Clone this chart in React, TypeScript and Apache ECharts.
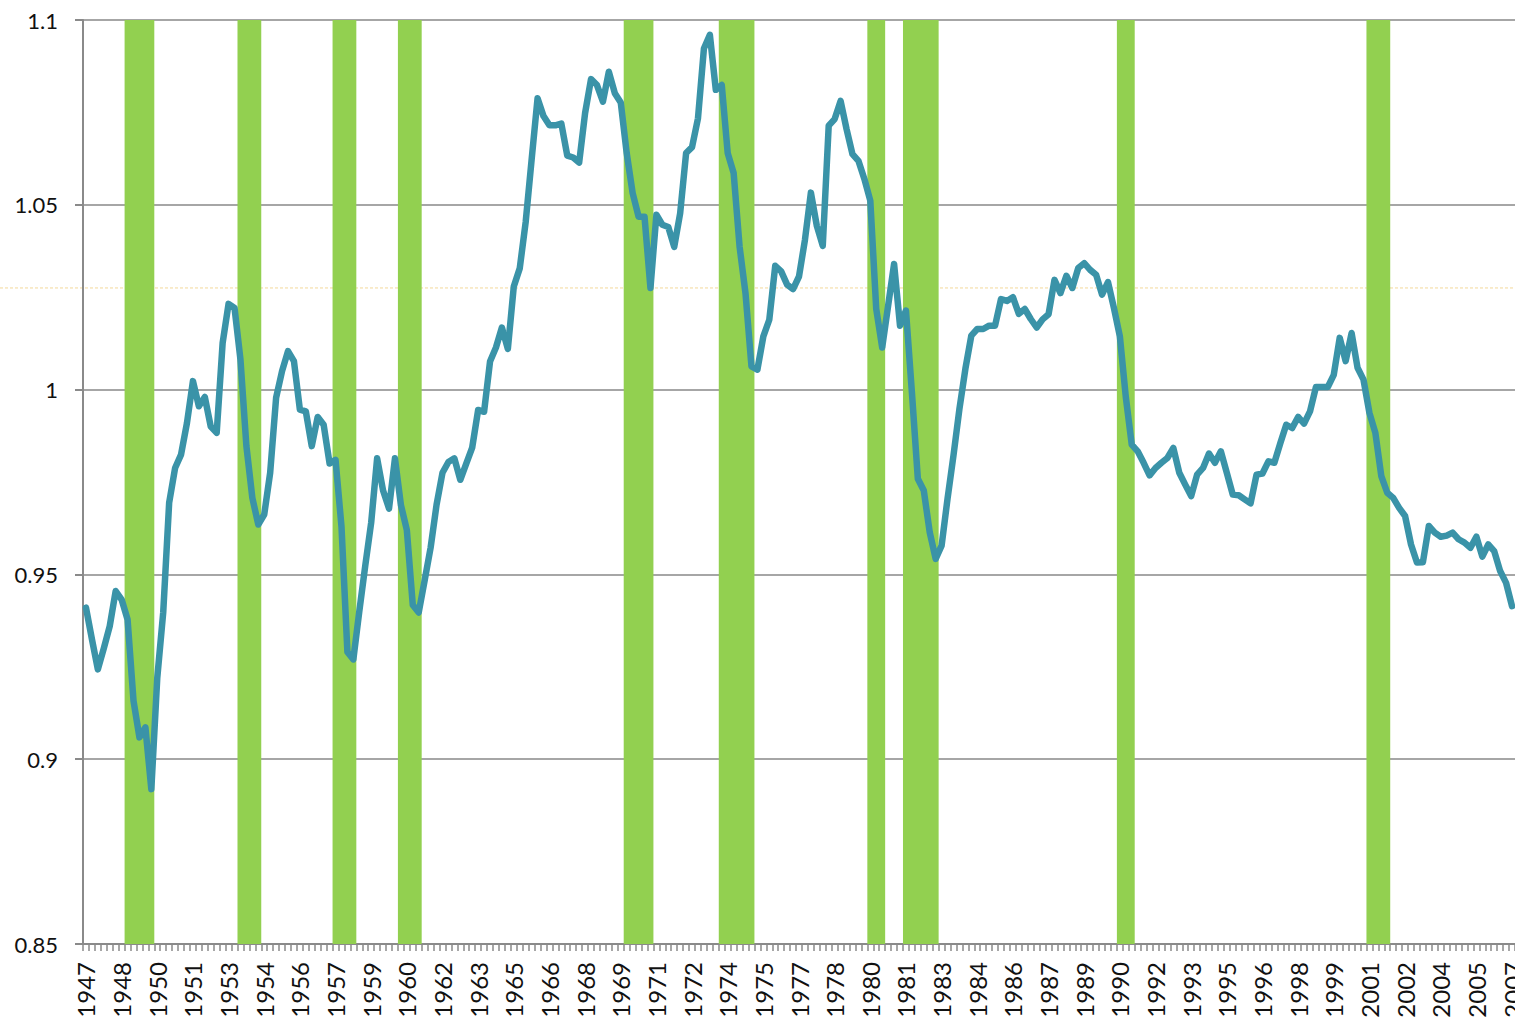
import React, { useEffect, useRef } from "react";
import * as echarts from "echarts";

// Quarterly series, 1947Q1 .. 2007Q1
const START_YEAR = 1947;
const values1947_1956 = [
  0.941, 0.9325, 0.9243, 0.93, 0.936, 0.9455, 0.9432, 0.9378, 0.9158, 0.9059,
  0.9086, 0.8919, 0.922, 0.9397, 0.9694, 0.9788, 0.9824, 0.991, 1.0023, 0.9955,
  0.998, 0.99, 0.9883, 1.0126, 1.0232, 1.0221, 1.0081, 0.9847, 0.9707, 0.9635,
  0.9662, 0.9775, 0.9978, 1.005, 1.0104, 1.0077, 0.9946, 0.9941, 0.9847, 0.9926,
];
const values1957_1966 = [
  0.9905, 0.98, 0.981, 0.963, 0.929, 0.927, 0.94, 0.9523, 0.964, 0.9814,
  0.9727, 0.9678, 0.9814, 0.9688, 0.962, 0.9417, 0.9397, 0.9484, 0.9572, 0.9688,
  0.9775, 0.9804, 0.9814, 0.9756, 0.98, 0.9843, 0.9945, 0.994, 1.0076, 1.0114,
  1.0168, 1.011, 1.0279, 1.0328, 1.0453, 1.0622, 1.0788, 1.074, 1.0715, 1.0715,
];
const values1967_1976 = [
  1.072, 1.0633, 1.0628, 1.0614, 1.0748, 1.084, 1.0824, 1.0779, 1.086, 1.0802,
  1.0777, 1.064, 1.0532, 1.0468, 1.0468, 1.0275, 1.0473, 1.0446, 1.044, 1.0386,
  1.0477, 1.064, 1.0656, 1.0734, 1.0923, 1.096, 1.0811, 1.0824, 1.064, 1.0586,
  1.0387, 1.026, 1.0063, 1.0054, 1.0144, 1.0189, 1.0335, 1.032, 1.0284, 1.0272,
];
const values1977_1986 = [
  1.0306, 1.0405, 1.0533, 1.0443, 1.0389, 1.0714, 1.0732, 1.0781, 1.0705, 1.0637,
  1.0619, 1.057, 1.0511, 1.0218, 1.0114, 1.0227, 1.034, 1.0173, 1.0214, 0.9993,
  0.9759, 0.9727, 0.9614, 0.9542, 0.9578, 0.9705, 0.9822, 0.9948, 1.0056, 1.0146,
  1.0164, 1.0164, 1.0173, 1.0173, 1.0245, 1.024, 1.025, 1.0205, 1.0218, 1.0191,
];
const values1987_1996 = [
  1.0168, 1.019, 1.0204, 1.0297, 1.0261, 1.0308, 1.0275, 1.0329, 1.0342, 1.0324,
  1.0311, 1.0257, 1.0291, 1.0221, 1.0144, 0.998, 0.9851, 0.9833, 0.9802, 0.9768,
  0.9788, 0.9802, 0.9815, 0.9842, 0.9775, 0.9743, 0.9712, 0.977, 0.9788, 0.9827,
  0.9802, 0.9833, 0.9775, 0.9716, 0.9714, 0.9703, 0.9692, 0.977, 0.9773, 0.9806,
];
const values1997_2007 = [
  0.9802, 0.9855, 0.9905, 0.9896, 0.9926, 0.9908, 0.9941, 1.0007, 1.0007, 1.0007,
  1.004, 1.014, 1.0077, 1.0153, 1.0059, 1.0027, 0.9937, 0.9883, 0.9766, 0.9721,
  0.9707, 0.968, 0.9658, 0.9581, 0.9532, 0.9533, 0.9631, 0.9613, 0.9602, 0.9605,
  0.9613, 0.9595, 0.9586, 0.9572, 0.9602, 0.9548, 0.9581, 0.9563, 0.9509, 0.9477,
  0.9414,
];

// Recession periods (first and last shaded quarter)
const recessions = [
  ["1948Q4", "1949Q4"],
  ["1953Q3", "1954Q2"],
  ["1957Q3", "1958Q2"],
  ["1960Q2", "1961Q1"],
  ["1969Q4", "1970Q4"],
  ["1973Q4", "1975Q1"],
  ["1980Q1", "1980Q3"],
  ["1981Q3", "1982Q4"],
  ["1990Q3", "1991Q1"],
  ["2001Q1", "2001Q4"],
];

const REFERENCE_LEVEL = 1.0275;
const Y_MIN = 0.85;
const Y_MAX = 1.1;
const Y_STEP = 0.05;

const values = [
  ...values1947_1956,
  ...values1957_1966,
  ...values1967_1976,
  ...values1977_1986,
  ...values1987_1996,
  ...values1997_2007,
];
const categories = values.map(
  (_, i) => `${START_YEAR + Math.floor(i / 4)}Q${(i % 4) + 1}`
);
const recessionData = recessions.map(([a, b]) => [
  categories.indexOf(a),
  categories.indexOf(b),
]);

const FONT = "Lato, 'Open Sans', sans-serif";

export default function App() {
  const ref = useRef<HTMLDivElement>(null);
  useEffect(() => {
    if (!ref.current) return;
    const chart = echarts.init(ref.current, undefined, { renderer: "svg" });
    chart.setOption({
      animation: false,
      backgroundColor: "#ffffff",
      grid: {
        left: 83,
        right: 0,
        top: 20,
        bottom: 80,
        containLabel: false,
        outerBoundsMode: "none",
      },
      xAxis: {
        type: "category",
        data: categories,
        boundaryGap: true,
        axisLine: { show: true, lineStyle: { color: "#8a8a8a", width: 2 } },
        axisTick: {
          show: true,
          interval: 0,
          length: 7,
          lineStyle: { color: "#8a8a8a", width: 1.5 },
        },
        axisLabel: {
          interval: 5,
          rotate: 90,
          margin: 18,
          fontFamily: FONT,
          fontSize: 24,
          color: "#111",
          formatter: (v: string) => v.slice(0, 4),
        },
        splitLine: { show: false },
      },
      yAxis: {
        type: "value",
        min: Y_MIN,
        max: Y_MAX,
        interval: Y_STEP,
        axisLine: { show: true, lineStyle: { color: "#8a8a8a", width: 2 } },
        axisTick: { show: true, length: 8, lineStyle: { color: "#8a8a8a", width: 2 } },
        axisLabel: {
          margin: 25,
          fontFamily: FONT,
          fontSize: 22,
          color: "#111",
        },
        splitLine: { show: true, lineStyle: { color: "#a6a6a6", width: 2 } },
      },
      series: [
        {
          type: "custom",
          data: recessionData,
          encode: { x: [0, 1] },
          silent: true,
          z: 1,
          clip: true,
          renderItem: (params: any, api: any) => {
            const top = api.coord([api.value(0), Y_MAX]);
            const bottom = api.coord([api.value(1), Y_MIN]);
            const band = api.size([1, 0])[0];
            return {
              type: "rect",
              shape: {
                x: top[0] - band / 2,
                y: top[1],
                width: bottom[0] - top[0] + band,
                height: bottom[1] - top[1],
              },
              style: { fill: "#92D050" },
            };
          },
        },
        {
          type: "line",
          data: values,
          showSymbol: false,
          symbol: "none",
          lineStyle: { color: "#3A93A8", width: 6.5, cap: "round", join: "round" },
          z: 3,
        },
      ],
    });
    const y = chart.convertToPixel({ yAxisIndex: 0 }, REFERENCE_LEVEL) as number;
    chart.setOption({
      graphic: [
        {
          type: "line",
          z: 0,
          silent: true,
          shape: { x1: 0, y1: y, x2: chart.getWidth(), y2: y },
          style: { stroke: "#F3D89A", lineWidth: 1, lineDash: [3, 2] },
        },
      ],
    });
    return () => chart.dispose();
  }, []);
  return (
    <div
      ref={ref}
      style={{ position: "absolute", left: 0, top: 0, width: 1515, height: 1024 }}
    />
  );
}
